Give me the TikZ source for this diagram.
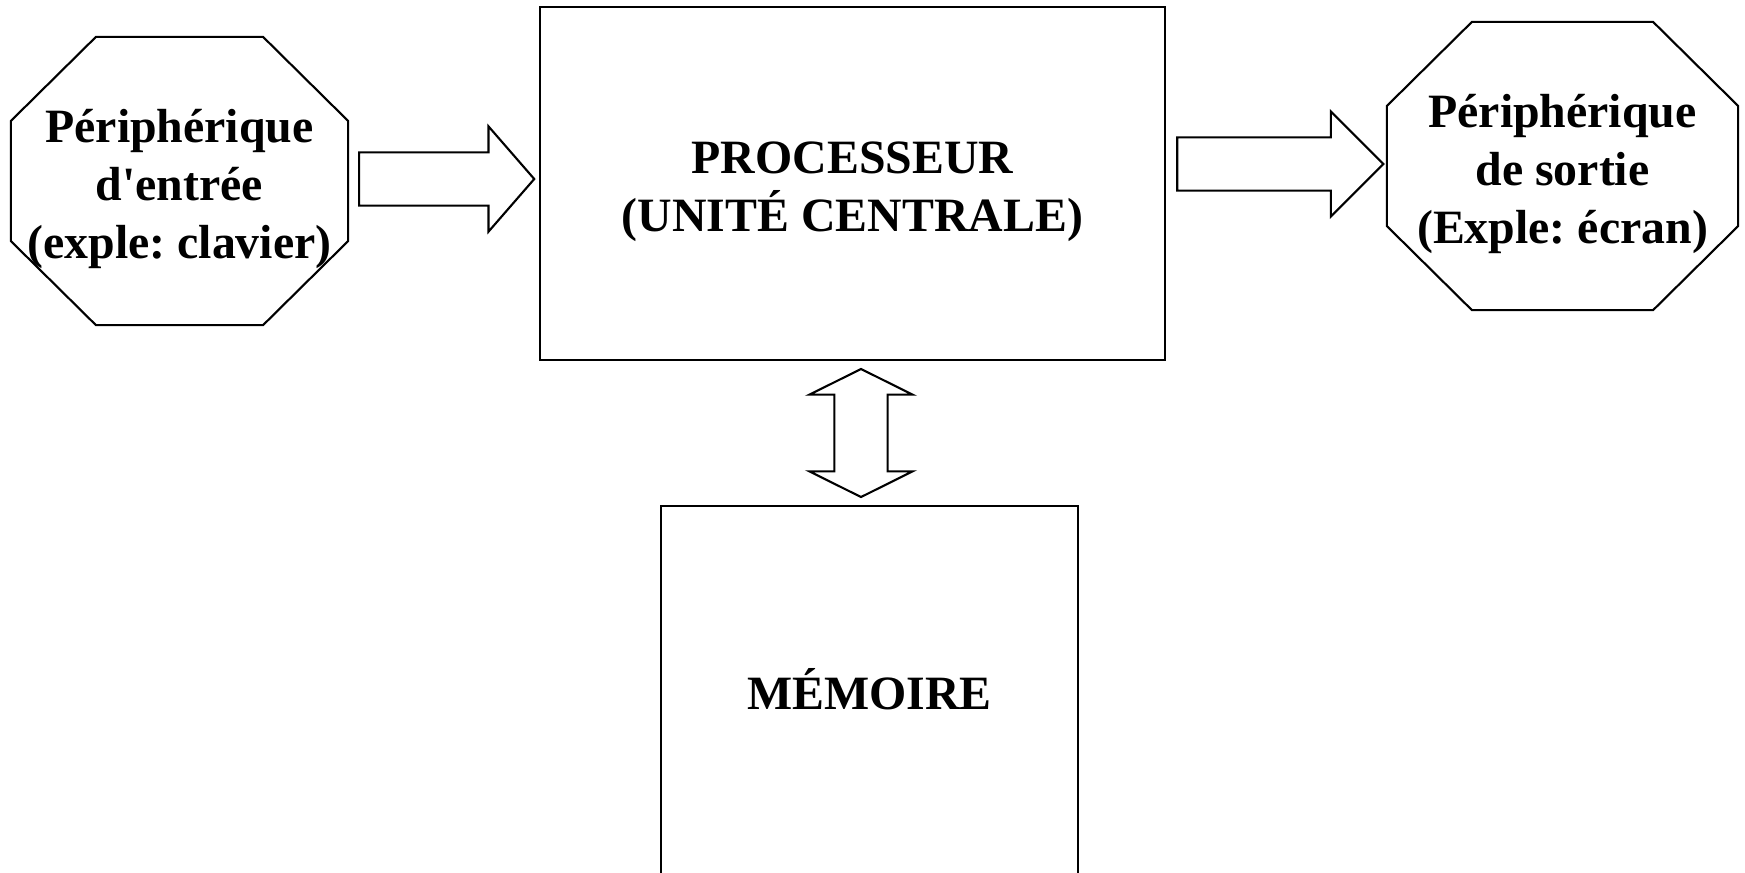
\documentclass[tikz,border=0pt]{standalone}
\usepackage{fontspec}
\setmainfont{Liberation Serif}
\frenchspacing
\usetikzlibrary{shapes.arrows,calc}
% struts that push a block of text down / up a little
\newcommand{\toppad}{\rule{0pt}{0.49cm}}
\newcommand{\botpad}{\rule[-0.24cm]{0pt}{0.24cm}}

\begin{document}
\begin{tikzpicture}[x=0.01cm, y=-0.01cm,
  every node/.style={font=\fontsize{13.6}{16.5}\selectfont\bfseries, align=center, line width=0.6pt},
  periph/.style={rectangle, minimum height=2.88cm, inner sep=0pt, outer sep=0pt},
  unit/.style={draw, rectangle, inner sep=0pt},
  bigarrow/.style={draw, single arrow, anchor=tail, inner xsep=0pt, inner ysep=0.255cm,
    minimum width=1.03cm, single arrow head extend=0.26cm},
  busarrow/.style={draw, double arrow, inner xsep=0pt, inner ysep=0.255cm,
    double arrow head extend=0.25cm, double arrow tip angle=127, rotate=90}]

  % ---- Page ----
  \useasboundingbox (0,0) rectangle (1745,872);
  \fill[white] (0,0) rectangle (1745,872);

  % ---- Units ----
  \node[periph, minimum width=3.37cm] (inp) at (179.5,181)
    {\toppad Périphérique\\d\textquotesingle entrée\\(exple: clavier)};
  \node[unit, minimum width=6.25cm, minimum height=3.53cm] (cpu) at (852.5,183.5)
    {\toppad PROCESSEUR\\(UNITÉ CENTRALE)};
  \node[periph, minimum width=3.51cm] (out) at (1562.5,166)
    {\toppad Périphérique\\de sortie\\(Exple: écran)};
  \node[unit, minimum width=4.17cm, minimum height=3.9cm] (mem) at (869.5,701)
    {MÉMOIRE\botpad};

  % ---- Octagon borders of the peripherals ----
  \foreach \n in {inp,out}{
    \draw[line width=0.6pt]
      ($(\n.north west)+(85,0)$) -- ($(\n.north east)+(-85,0)$) --
      ($(\n.north east)+(0,84)$) -- ($(\n.south east)+(0,-84)$) --
      ($(\n.south east)+(-85,0)$) -- ($(\n.south west)+(85,0)$) --
      ($(\n.south west)+(0,-84)$) -- ($(\n.north west)+(0,84)$) -- cycle;
  }

  % ---- Block arrows between units ----
  \node[bigarrow, minimum height=1.75cm, single arrow tip angle=98] (inToCpu)
    at ($(inp.east)+(10,-2)$) {};
  \node[bigarrow, minimum height=2.06cm, single arrow tip angle=90] (cpuToOut)
    at ($(cpu.east |- out.west)+(10,-2)$) {};
  \node[busarrow, minimum height=1.28cm] (cpuMem)
    at ($(cpu.south)!0.5!(mem.north)$) {};

\end{tikzpicture}
\end{document}
